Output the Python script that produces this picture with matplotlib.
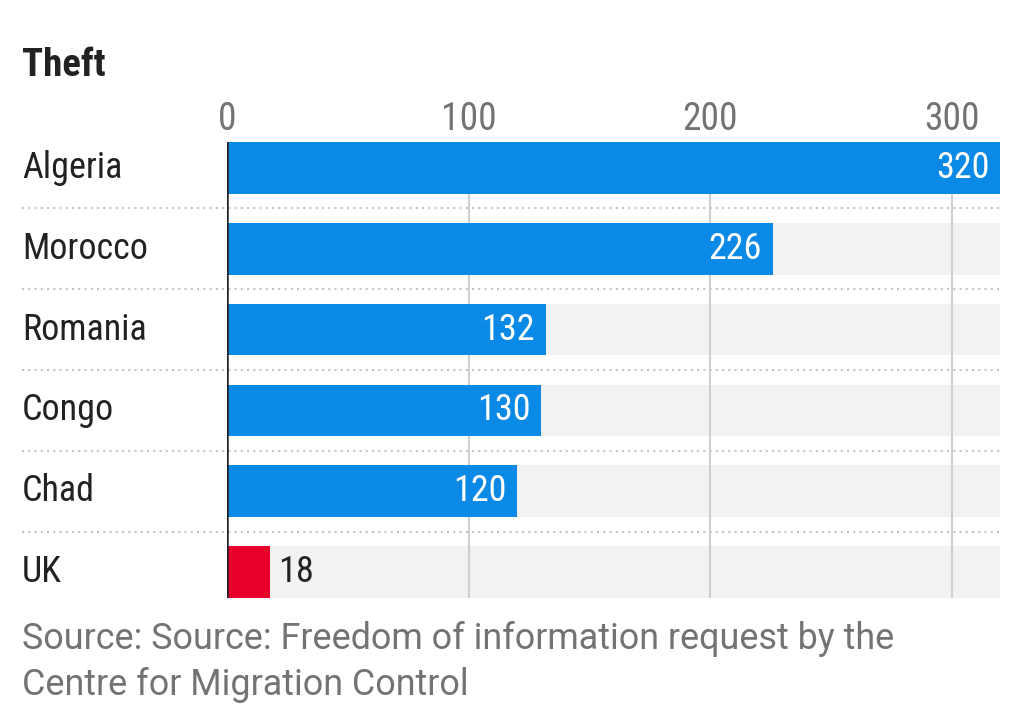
import matplotlib.pyplot as plt
import matplotlib.transforms as mtransforms
from matplotlib import font_manager

countries = ['Algeria', 'Morocco', 'Romania', 'Congo', 'Chad', 'UK']
values = [320, 226, 132, 130, 120, 18]
highlight = ['UK']
x_ticks = [0, 100, 200, 300]
x_max = 320

blue = '#0a8ae6'
red = '#e8002a'
bg_grey = '#f2f2f2'
text_dark = '#222222'
text_grey = '#737373'

installed = {f.name for f in font_manager.fontManager.ttflist}
cond = [f for f in ['Liberation Sans Narrow', 'DejaVu Sans Condensed', 'Roboto Condensed', 'Roboto']
        if f in installed]
cond_font = cond[0] if cond else 'DejaVu Sans'
stretch = 'condensed' if cond_font == 'DejaVu Sans' else 'normal'

fig = plt.figure(figsize=(10.24, 7.14), dpi=100)
ax = fig.add_axes([227 / 1024, 116 / 714, 773 / 1024, 456 / 714])

y = list(range(len(countries)))
bar_h = 0.64

# light grey background bars
ax.barh(y, [x_max] * len(y), height=bar_h, color=bg_grey, zorder=0)
# gridlines
for t in x_ticks[1:]:
    ax.axvline(t, color='#cfcfcf', lw=1.5, zorder=1)
colors = [red if c in highlight else blue for c in countries]
ax.barh(y, values, height=bar_h, color=colors, zorder=2)
ax.axvline(0, color='#222222', lw=1.8, zorder=3)

ax.set_xlim(0, x_max)
ax.set_ylim(len(y) - 1 + bar_h / 2, -bar_h / 2)

for yi, v, c in zip(y, values, countries):
    if c in highlight:
        ax.text(v + 3, yi, str(v), va='center', ha='left', color=text_dark,
                fontsize=26, family=cond_font, fontstretch=stretch, zorder=4)
    else:
        ax.text(v - 4.5, yi, str(v), va='center', ha='right', color='white',
                fontsize=26, family=cond_font, fontstretch=stretch, zorder=4)

# country labels at left edge of figure
trans = mtransforms.blended_transform_factory(fig.transFigure, ax.transData)
for yi, c in zip(y, countries):
    ax.text(22 / 1024, yi, c, transform=trans, ha='left', va='center',
            color=text_dark, fontsize=26, family=cond_font, fontstretch=stretch)

# dotted row separators
for yi in y[:-1]:
    ax.plot([22 / 1024, 1000 / 1024], [yi + 0.5, yi + 0.5], transform=trans,
            color='#c4c4c4', lw=1.5, ls=(0, (1, 2)), clip_on=False, zorder=1)

ax.xaxis.tick_top()
ax.set_xticks(x_ticks)
ax.set_xticklabels([str(t) for t in x_ticks])
ax.tick_params(axis='x', length=0, pad=3, labelsize=27, labelcolor=text_grey)
for lab in ax.get_xticklabels():
    lab.set_family(cond_font)
    lab.set_fontstretch(stretch)
ax.set_yticks([])
for s in ax.spines.values():
    s.set_visible(False)

fig.text(22 / 1024, 1 - 66 / 714, 'Theft', ha='left', va='center', fontsize=28,
         fontweight='heavy', color=text_dark, family=cond_font, fontstretch=stretch)

fig.text(22 / 1024, 1 - 662 / 714,
         'Source: Source: Freedom of information request by the\nCentre for Migration Control',
         ha='left', va='center', fontsize=25.8, color=text_grey, family='Roboto',
         linespacing=1.36)

fig.savefig('out.png', dpi=100)
